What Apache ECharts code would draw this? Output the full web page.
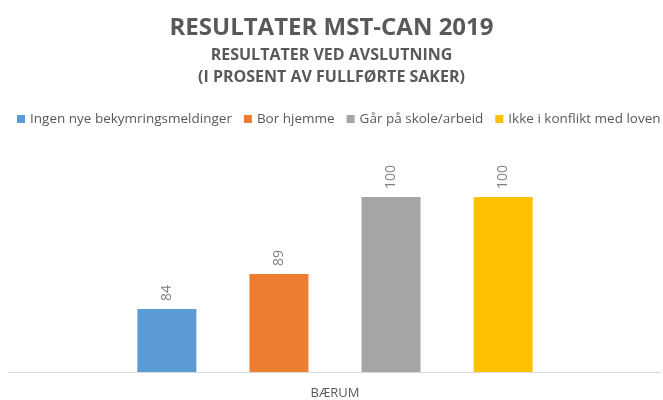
<!DOCTYPE html>
<html>
<head>
<meta charset="utf-8">
<script src="https://cdn.jsdelivr.net/npm/echarts@6/dist/echarts.min.js"></script>
<style>
  html, body { margin: 0; padding: 0; background: #fff; }
  #main { width: 663px; height: 400px; }
</style>
</head>
<body>
<div id="main"></div>
<script>
// data
var categories = ['BÆRUM'];
var seriesNames = ['Ingen nye bekymringsmeldinger', 'Bor hjemme', 'Går på skole/arbeid', 'Ikke i konflikt med loven'];
var seriesValues = [[84], [89], [100], [100]];
var colors = ['#5b9bd5', '#ed7d31', '#a5a5a5', '#ffc000'];

var myChart = echarts.init(document.getElementById('main'));
var fontFam = 'Open Sans';

var series = [];
for (var i = 0; i < seriesNames.length; i++) {
  series.push({
    name: seriesNames[i],
    type: 'bar',
    data: seriesValues[i],
    barWidth: 59,
    barGap: '90%',
    itemStyle: { color: colors[i] },
    label: {
      show: true,
      position: 'top',
      rotate: 90,
      align: 'left',
      verticalAlign: 'middle',
      distance: 8,
      color: '#7f7f7f',
      fontSize: 14,
      fontFamily: fontFam
    }
  });
}

myChart.setOption({
  animation: false,
  color: colors,
  title: [{
    text: 'RESULTATER MST-CAN 2019',
    left: 'center',
    top: 11,
    textStyle: { color: '#595959', fontSize: 24, fontWeight: 'bold', fontFamily: fontFam }
  }, {
    text: 'RESULTATER VED AVSLUTNING\n(I PROSENT AV FULLFØRTE SAKER)',
    left: 'center',
    top: 40,
    textStyle: { color: '#595959', fontSize: 16, fontWeight: 'bold', fontFamily: fontFam, lineHeight: 21.5 }
  }],
  legend: {
    top: 112,
    left: 17,
    width: 646,
    padding: 0,
    itemWidth: 8,
    itemHeight: 8,
    itemGap: 12,
    icon: 'rect',
    textStyle: { color: '#595959', fontSize: 13.5, fontFamily: fontFam },
    data: seriesNames
  },
  grid: { left: 9, right: 2, top: 162, bottom: 28 },
  xAxis: {
    type: 'category',
    data: categories,
    axisLine: { lineStyle: { color: '#d9d9d9' } },
    axisTick: { show: false },
    axisLabel: { color: '#595959', fontSize: 13, margin: 15, fontFamily: fontFam }
  },
  yAxis: {
    type: 'value',
    min: 75,
    max: 105,
    interval: 5,
    show: false,
    splitLine: { show: false }
  },
  series: series
});
</script>
</body>
</html>
